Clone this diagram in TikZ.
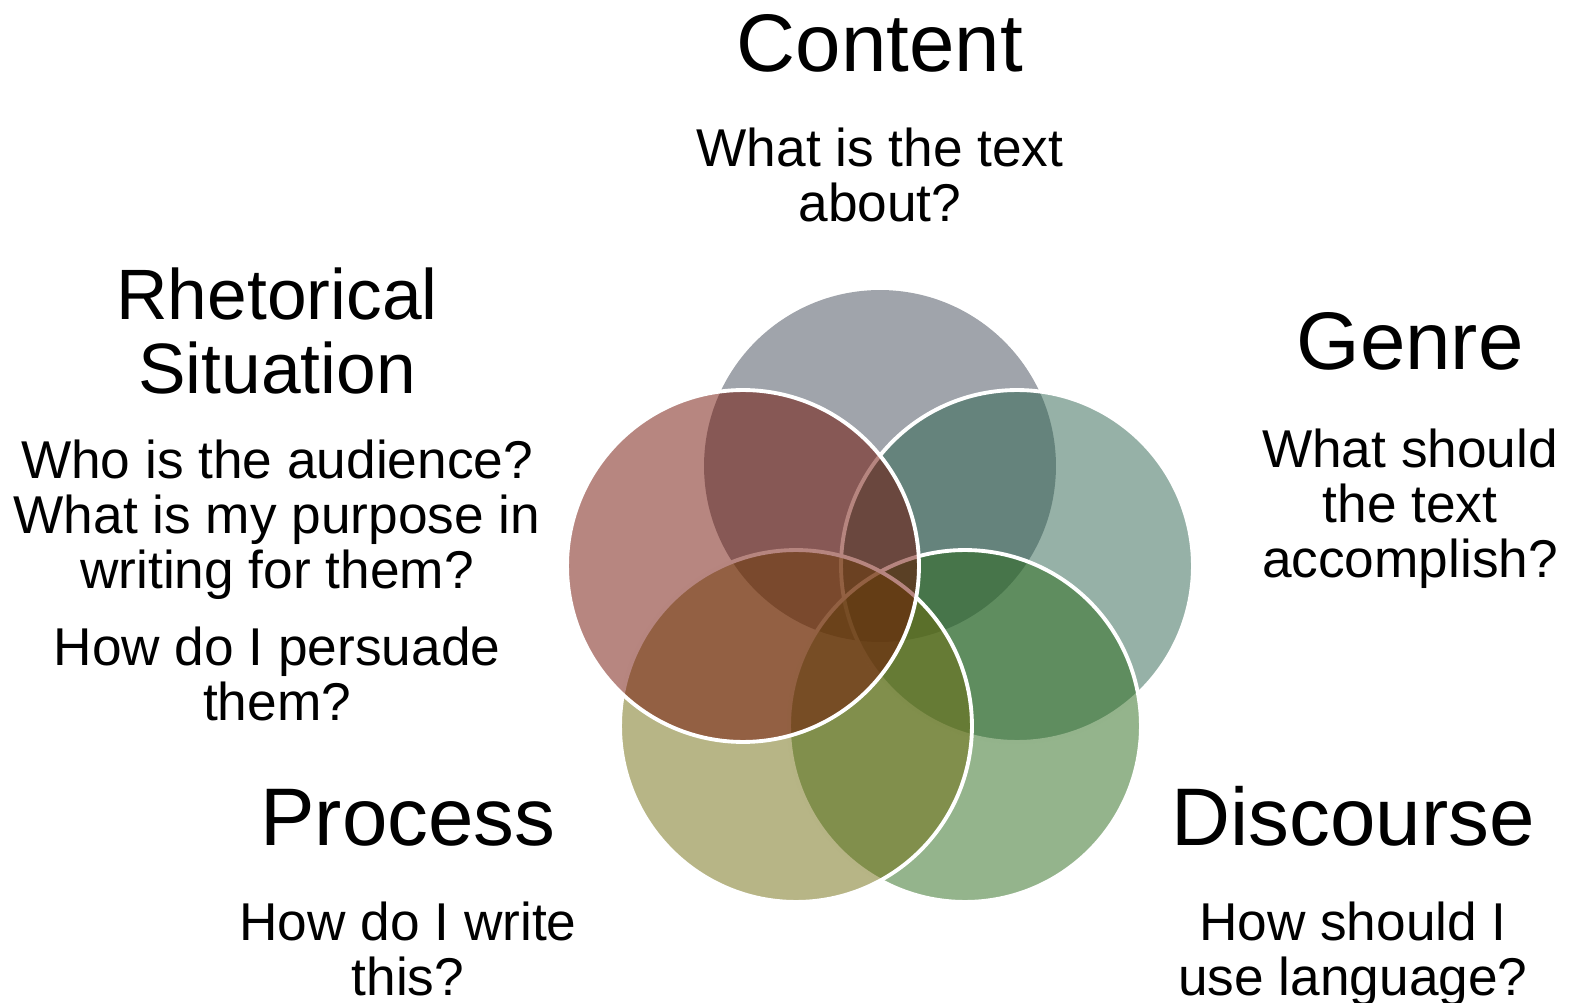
\documentclass[tikz,border=0pt]{standalone}
\usepackage{fontspec}
\setmainfont{Liberation Sans}
\usepackage{tikz}
\usetikzlibrary{positioning}
\definecolor{ringgray}{RGB}{65,73,87}
\definecolor{ringteal}{RGB}{45,99,79}
\definecolor{ringgreen}{RGB}{41,105,25}
\definecolor{ringolive}{RGB}{111,107,13}
\definecolor{ringred}{RGB}{111,13,1}
\tikzset{
ring/.style={ % Sets the properties for each circle
circle,
minimum size=7.04cm,
inner sep=0pt,
fill opacity=0.5,
draw=white,
line width=2.2pt},
heading/.style={ % Big title beside a circle
font=\fontsize{46.5}{48}\selectfont,
inner sep=0pt,
anchor=base},
question/.style={ % Questions under a title
font=\fontsize{30.3}{31.2}\selectfont,
align=center,
inner sep=0pt,
anchor=north}}

\begin{document}
\begin{tikzpicture}[x=0.02cm,y=-0.02cm]
\useasboundingbox (0,0) rectangle (1570,1003);
\node[ring, fill=ringgray, draw=none] (cContent) at (880,466) {};
\node[ring, fill=ringteal ] (cGenre) at (1017,566) {};
\node[ring, fill=ringgreen] (cDiscourse) at (965,726) {};
\node[ring, fill=ringolive] (cProcess) at (796,726) {};
\node[ring, fill=ringred ] (cRhetoric) at (743,566) {};
\node[heading] (tContent) at (880,72) {Content};
\node[question] (qContent) at (880,128) {What is the text\\about?};
\node[heading] (tGenre) at (1410,370) {Genre};
\node[question] (qGenre) at (1410,429) {What should\\the text\\accomplish?};
\node[heading, font=\fontsize{40.6}{42.5}\selectfont, align=center, anchor=north] (tRhetoric) at (277,267) {Rhetorical\\Situation};
\node[question] (qRhetoric) at (277,440) {Who is the audience?\\What is my purpose in\\writing for them?};
\node[question] (qPersuade) at (277,627) {How do I persuade\\them?};
\node[heading] (tProcess) at (408,845) {Process};
\node[question] (qProcess) at (408,902) {How do I write\\this?};
\node[heading] (tDiscourse) at (1353,845) {Discourse};
\node[question] (qDiscourse) at (1353,902) {How should I\\use language?};
\end{tikzpicture}
\end{document}
